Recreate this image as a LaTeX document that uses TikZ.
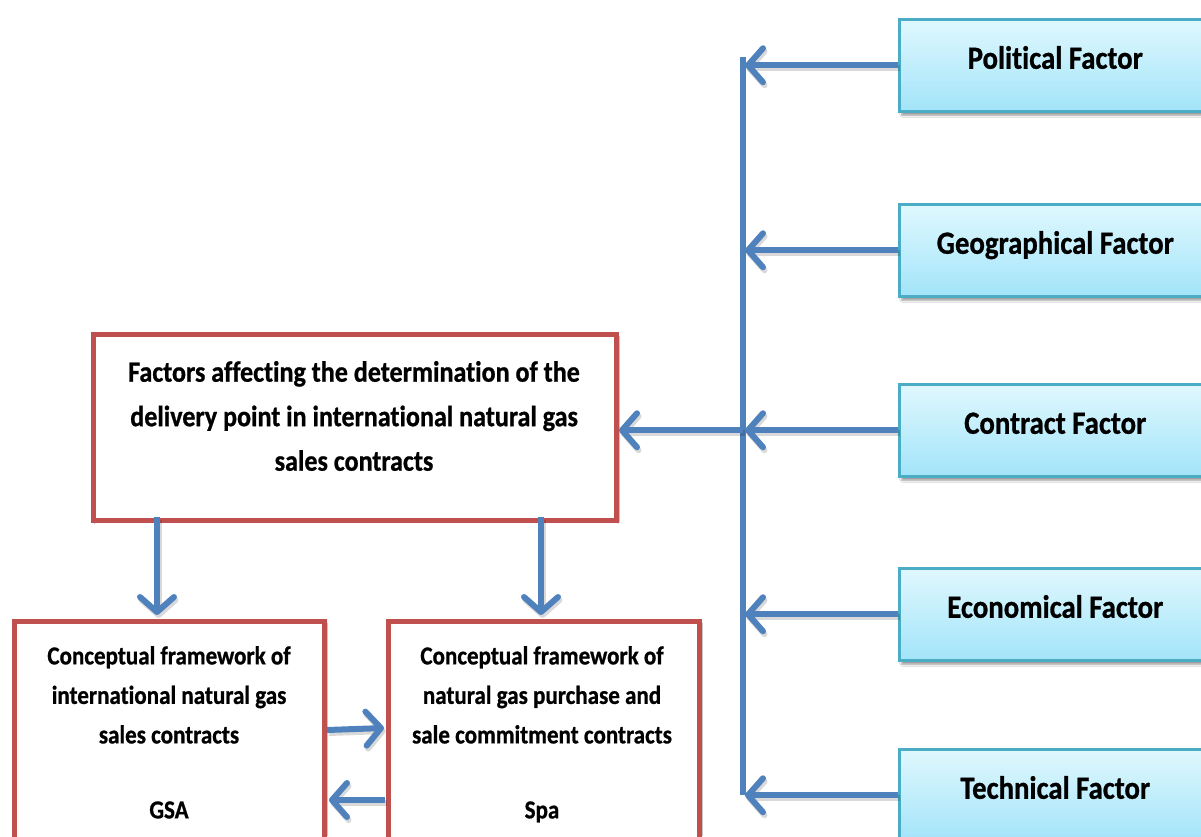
\documentclass[tikz,border=0pt]{standalone}
\usepackage{fontspec}
\setmainfont{Carlito}[FakeStretch=0.89, Ligatures=NoCommon,
  BoldFeatures={FakeBold=0.8}]
\usetikzlibrary{arrows.meta,shadows.blur}

\definecolor{linkblue}{HTML}{4F81BD}
\definecolor{framered}{HTML}{C0504D}
\definecolor{factoredge}{HTML}{4BACC6}
\definecolor{factortop}{HTML}{E0F8FE}
\definecolor{factorbottom}{HTML}{A2E4F9}

\tikzset{
  factor/.style={draw=factoredge, line width=2.5pt,
    top color=factortop, bottom color=factorbottom,
    minimum width=312pt, minimum height=92pt, anchor=north west,
    font=\bfseries\fontsize{32.3}{36}\selectfont,
    text height=21pt, text depth=14pt,
    blur shadow={shadow xshift=2.5pt, shadow yshift=-4pt,
      shadow blur steps=6, shadow opacity=40}},
  frame/.style={draw=framered, line width=5pt, fill=white,
    anchor=north west, outer sep=0pt,
    blur shadow={shadow xshift=1.5pt, shadow yshift=-2pt,
      shadow blur steps=4, shadow opacity=20}},
  maintext/.style={align=center, inner sep=0pt,
    font=\bfseries\fontsize{29.3}{44.5}\selectfont},
  subtext/.style={align=center, inner sep=0pt, anchor=north,
    font=\bfseries\fontsize{25.9}{39.5}\selectfont},
  link/.style={draw=linkblue, line width=6pt,
    -{Straight Barb[length=15pt, width=34pt, line width=6pt, round]},
    preaction={draw=black, opacity=0.15, line width=6pt,
      transform canvas={shift={(1.5pt,-3pt)}}}},
  trunk/.style={draw=linkblue, line width=6pt}
}

\begin{document}
\begin{tikzpicture}[x=1pt, y=-1pt]
  \clip (0,0) rectangle (1201,836);
  \fill[white] (0,0) rectangle (1201,836);

  % factor boxes on the right
  \node[factor] (pol) at (898,18)  {Political Factor};
  \node[factor] (geo) at (898,203) {Geographical Factor};
  \node[factor] (con) at (898,383) {Contract Factor};
  \node[factor] (eco) at (898,567) {Economical Factor};
  \node[factor] (tec) at (898,748) {Technical Factor};

  % collecting trunk
  \coordinate (ttop) at (743,57);
  \coordinate (tbot) at (743,795);
  \draw[trunk] (ttop) -- (tbot);

  % factor arrows into the trunk
  \foreach \f in {pol,geo,con,eco,tec}
    \draw[link] (\f.west) -- (\f.west -| 745,0);

  % main box
  \node[frame, minimum width=522.5pt, minimum height=185.5pt] (main) at (93.5,334.5) {};
  \node[maintext] (maintxt) at (354,416)
    {Factors affecting the determination of the\\
     delivery point in international natural gas\\
     sales contracts};

  % trunk into main box
  \draw[link] (con.west -| ttop) -- ([xshift=3pt]main.east |- con.west);

  % lower boxes
  \node[frame, minimum width=310pt, minimum height=260pt] (gsa) at (14,621) {};
  \node[frame, minimum width=311pt, minimum height=260pt] (spa) at (388,621) {};
  \node[subtext] (gsatxt) at (169,646)
    {Conceptual framework of\\
     international natural gas\\
     sales contracts\\[35.5pt]
     GSA};
  \node[subtext] (spatxt) at (542,646)
    {Conceptual framework of\\
     natural gas purchase and\\
     sale commitment contracts\\[35.5pt]
     Spa};

  % main box down to lower boxes
  \draw[link] ([yshift=3pt]main.south -| 157,0) -- ([yshift=6pt]gsa.north -| 157,0);
  \draw[link] ([yshift=3pt]main.south -| 541,0) -- ([yshift=6pt]spa.north -| 541,0);

  % exchange between the lower boxes
  \draw[link] ([xshift=3pt]gsa.east |- 0,730) -- ([xshift=-4pt]spa.west |- 0,728);
  \draw[link] ([xshift=-3pt]spa.west |- 0,800) -- ([xshift=5pt]gsa.east |- 0,800);
\end{tikzpicture}
\end{document}
